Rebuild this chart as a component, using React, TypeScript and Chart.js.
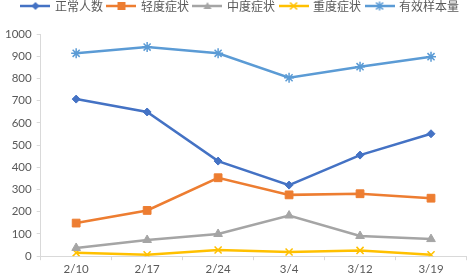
import React, { useEffect, useRef } from "react";
import { Chart, registerables } from "chart.js";

Chart.register(...registerables);

const categories = ["2/10", "2/17", "2/24", "3/4", "3/12", "3/19"];
const seriesNames = ["正常人数", "轻度症状", "中度症状", "重度症状", "有效样本量"];
const normal = [707, 649, 428, 320, 455, 551];
const mild = [149, 206, 353, 276, 281, 261];
const moderate = [37, 73, 100, 183, 91, 77];
const severe = [15, 6, 28, 19, 26, 6];
const valid = [913, 941, 913, 803, 853, 898];
const yTicks = [0, 100, 200, 300, 400, 500, 600, 700, 800, 900, 1000];

const colors = ["#4472C4", "#ED7D31", "#A5A5A5", "#FFC000", "#5B9BD5"];
const styles: any[] = ["rectRot", "rect", "triangle", "crossRot", "star"];
const radii = [4, 5.5, 5, 5, 5];

function legendIcon(i: number): HTMLCanvasElement {
  const c = document.createElement("canvas");
  c.width = 30;
  c.height = 12;
  const ctx = c.getContext("2d")!;
  ctx.strokeStyle = colors[i];
  ctx.lineWidth = 2.5;
  ctx.beginPath();
  ctx.moveTo(0, 6);
  ctx.lineTo(30, 6);
  ctx.stroke();
  const s = styles[i];
  ctx.fillStyle = colors[i];
  ctx.lineWidth = 1.5;
  const cx = 15, cy = 6, r = 4;
  ctx.beginPath();
  if (s === "rectRot") {
    ctx.moveTo(cx, cy - r); ctx.lineTo(cx + r, cy); ctx.lineTo(cx, cy + r); ctx.lineTo(cx - r, cy); ctx.closePath(); ctx.fill();
  } else if (s === "rect") {
    ctx.fillRect(cx - 4, cy - 4, 8, 8);
  } else if (s === "triangle") {
    ctx.moveTo(cx, cy - 4); ctx.lineTo(cx + 4, cy + 3); ctx.lineTo(cx - 4, cy + 3); ctx.closePath(); ctx.fill();
  } else if (s === "crossRot") {
    ctx.moveTo(cx - 3.5, cy - 3.5); ctx.lineTo(cx + 3.5, cy + 3.5); ctx.moveTo(cx + 3.5, cy - 3.5); ctx.lineTo(cx - 3.5, cy + 3.5); ctx.stroke();
  } else {
    ctx.moveTo(cx - 3.5, cy - 3.5); ctx.lineTo(cx + 3.5, cy + 3.5); ctx.moveTo(cx + 3.5, cy - 3.5); ctx.lineTo(cx - 3.5, cy + 3.5);
    ctx.moveTo(cx, cy - 4.5); ctx.lineTo(cx, cy + 4.5); ctx.stroke();
  }
  return c;
}

const legendGap = {
  id: "legendGap",
  beforeInit(chart: any) {
    const legend = chart.legend;
    if (!legend) return;
    const fit = legend.fit;
    legend.fit = function () {
      fit.call(this);
      this.height += 12;
    };
  },
  afterLayout(chart: any) {
    const legend = chart.legend;
    if (!legend) return;
    legend.left += 5;
    legend.right += 5;
  },
};

export default function App() {
  const ref = useRef<HTMLCanvasElement>(null);
  useEffect(() => {
    document.body.style.margin = "0";
    const data = [normal, mild, moderate, severe, valid];
    const chart = new Chart(ref.current!, {
      type: "line",
      data: {
        labels: categories,
        datasets: data.map((d, i) => ({
          label: seriesNames[i],
          data: d,
          borderColor: colors[i],
          backgroundColor: colors[i],
          borderWidth: 2.5,
          pointStyle: styles[i],
          pointRadius: radii[i],
          pointBorderWidth: i >= 3 ? 1.5 : 1,
          pointBorderColor: colors[i],
          pointBackgroundColor: colors[i],
          tension: 0,
        })),
      },
      plugins: [legendGap],
      options: {
        animation: false,
        responsive: false,
        layout: { padding: { left: 0, right: 2, top: -5, bottom: -2 } },
        plugins: {
          legend: {
            position: "top",
            labels: {
              usePointStyle: true,
              pointStyleWidth: 27,
              padding: 5,
              color: "#595959",
              font: { family: "'Noto Sans CJK SC'", size: 12 },
              generateLabels: (ch: any) =>
                ch.data.datasets.map((ds: any, i: number) => ({
                  text: ds.label,
                  fillStyle: colors[i],
                  strokeStyle: colors[i],
                  lineWidth: 0,
                  pointStyle: legendIcon(i),
                  hidden: false,
                  datasetIndex: i,
                  fontColor: "#595959",
                })),
            },
          },
          tooltip: { enabled: false },
        },
        scales: {
          x: {
            offset: true,
            grid: { display: true, drawOnChartArea: false, drawTicks: true, tickLength: 4, color: "#D9D9D9", offset: true },
            border: { color: "#D9D9D9" },
            ticks: { color: "#595959", font: { family: "Lato", size: 11.5 }, padding: 2 },
          },
          y: {
            min: 0,
            max: 1000,
            afterBuildTicks: (s: any) => { s.ticks = yTicks.map((v) => ({ value: v })); },
            grid: { display: true, drawOnChartArea: false, drawTicks: true, tickLength: 4, color: "#D9D9D9" },
            border: { color: "#D9D9D9" },
            ticks: { color: "#595959", font: { family: "Lato", size: 11.5 }, padding: 5, callback: (v: any) => String(v) },
          },
        },
      } as any,
    });
    return () => chart.destroy();
  }, []);
  return <canvas ref={ref} width={473} height={276} style={{ display: "block" }} />;
}
